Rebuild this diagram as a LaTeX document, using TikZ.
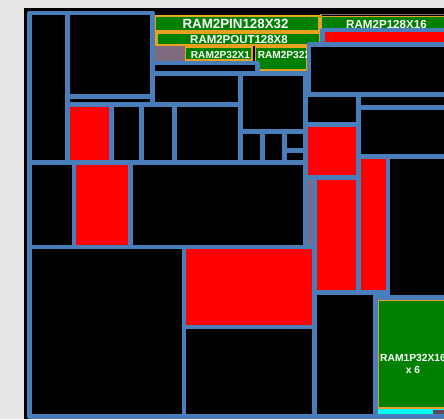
\documentclass[tikz,border=0pt]{standalone}
\usepackage{fontspec}
\setmainfont{Liberation Sans}
\usepackage{xcolor}
\definecolor{frame}{HTML}{4A7EBB}
\definecolor{macrogreen}{HTML}{008000}
\definecolor{pinorange}{HTML}{E8A020}
\definecolor{haze}{HTML}{806A80}
\definecolor{paper}{HTML}{E6E6E6}
\definecolor{hot}{HTML}{FF0000}
\definecolor{glow}{HTML}{00FFFF}

\begin{document}
\begin{tikzpicture}[x=0.75pt,y=-0.75pt,
  cell/.style={draw=frame,line width=3.4pt,line join=round,fill=black},
  hotcell/.style={cell,fill=hot},
  macro/.style={fill=macrogreen,draw=pinorange,line width=1.2pt},
  lbl/.style={text=white,inner sep=0pt}]
  \useasboundingbox (0,0) rectangle (444,419);
  \clip (0,0) rectangle (444,419);
  % backdrop
  \fill[paper] (0,0) rectangle (444,419);
  \fill[black] (24,8) rectangle (444,419);
  % macro strip along the top
  \fill[pinorange] (154,14.5) rectangle (322,46);
  \draw[macro] (155.5,16) rectangle (319,30.5);
  \draw[macro] (157.5,33.5) rectangle (320,44.5);
  \fill[haze] (155,46) rectangle (185,62);
  \draw[macro] (185.5,47) rectangle (252,60);
  \draw[macro] (255.5,47) rectangle (306.5,70);
  \draw[haze,line width=0.9pt] (320,14.3) -- (450,14.3);
  \draw[macro] (321,16.5) rectangle (450,30);
  \node[lbl,font=\fontsize{10}{12}\selectfont\bfseries] (pin) at (235.5,24) {RAM2PIN128X32};
  \node[lbl,font=\fontsize{8.6}{10}\selectfont\bfseries] (pout) at (239,39.2) {RAM2POUT128X8};
  \node[lbl,font=\fontsize{7.6}{9}\selectfont\bfseries] (p32a) at (220.5,55.3) {RAM2P32X1};
  \node[lbl,anchor=west,font=\fontsize{7.6}{9}\selectfont\bfseries] (p32b) at (257.5,55.3) {RAM2P32X1};
  \node[lbl,font=\fontsize{8.7}{10}\selectfont\bfseries] (p128) at (386.5,25) {RAM2P128X16};
  % black blocks
  \foreach \xa/\ya/\xb/\yb in {29.5/13/67.5/162.5, 67.5/13/152.5/96.5, 67.5/96.5/152.5/104.5,
      111.5/104.5/141.5/162.5, 141.5/104.5/174.5/162.5, 174.5/104.5/240.5/162.5,
      152.5/73.5/240.5/104.5, 152.5/63/257.5/73.5, 240.5/73.5/305.5/131.5,
      240.5/131.5/262.5/162.5, 262.5/131.5/284.5/162.5, 284.5/131.5/305.5/150.5,
      284.5/150.5/305.5/162.5, 29.5/162.5/74/247, 130.5/162.5/305.5/247,
      29.5/247/184/416.5, 184/327/314.5/416.5, 309/44.5/450/94.5,
      305.5/94.5/358.5/124.5, 358.5/94.5/450/107.5, 358.5/107.5/450/156.5,
      388/156.5/450/297.5, 314.5/292.5/375.5/416.5}
    \draw[cell] (\xa,\ya) rectangle (\xb,\yb);
  \draw[cell,fill=haze] (305.5,177.5) rectangle (314.5,247);
  % red blocks
  \foreach \xa/\ya/\xb/\yb in {67.5/104.5/111.5/162.5, 74/162.5/130.5/247, 184/247/314.5/327,
      322.5/30/450/44.5, 305.5/124.5/358.5/177.5, 314.5/177.5/358.5/292.5,
      358.5/156.5/388/292.5}
    \draw[hotcell] (\xa,\ya) rectangle (\xb,\yb);
  % memory array at the lower right
  \draw[cell,fill=macrogreen] (375.5,297.5) rectangle (450,416.5);
  \fill[glow] (377.7,408) rectangle (450,414.3);
  \fill[haze!70!black] (433,410) rectangle (444,414.3);
  \draw[pinorange,line width=0.8pt] (450,300.5) -- (378.5,300.5) -- (378.5,408) -- (450,408);
  \node[lbl,align=center,font=\fontsize{7.7}{9}\selectfont\bfseries] (ram1p) at (413,364) {RAM1P32X16\\x 6};
\end{tikzpicture}
\end{document}
